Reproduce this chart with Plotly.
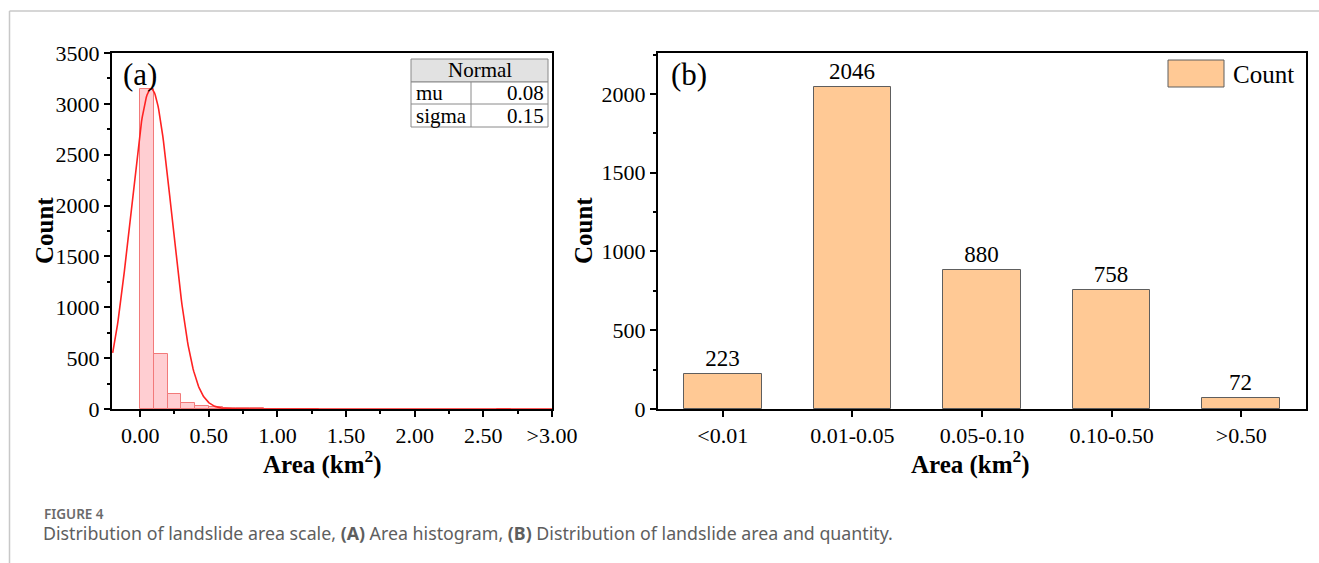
import numpy as np
import plotly.graph_objects as go

# ---------------- data ----------------
hist_centers = [0.05, 0.15, 0.25, 0.35, 0.45, 0.55, 0.65, 0.75, 0.85, 0.95, 1.05, 1.15, 1.25, 2.65]
hist_counts = [3150, 540, 145, 56, 33, 20, 10, 8, 5, 3, 3, 2, 2, 1]
bin_width = 0.1
fit_mu = 0.08
fit_sigma = 0.15
fit_peak = 3150

hist_xticks = [0, 0.5, 1.0, 1.5, 2.0, 2.5, 3.0]
hist_xticktext = ["0.00", "0.50", "1.00", "1.50", "2.00", "2.50", ">3.00"]

area_classes = ["<0.01", "0.01-0.05", "0.05-0.10", "0.10-0.50", ">0.50"]
area_counts = [223, 2046, 880, 758, 72]

# ---------------- layout helpers ----------------
W, H = 1319, 563
def X(px):
    return px / W
def Y(py):
    return 1 - py / H

SERIF = "Liberation Serif"

fig = go.Figure()

# histogram
fig.add_trace(go.Bar(
    x=hist_centers, y=hist_counts, width=bin_width,
    marker=dict(color="rgba(255,190,195,0.75)", line=dict(color="#F27A7A", width=1)),
    xaxis="x", yaxis="y", showlegend=False,
))

# normal fit curve from the displayed parameters
xc = np.linspace(-0.2, 3.0, 641)
yc = fit_peak * np.exp(-((xc - fit_mu) ** 2) / (2 * fit_sigma ** 2))
fig.add_trace(go.Scatter(
    x=xc, y=yc, mode="lines", line=dict(color="#FF2222", width=1.6),
    xaxis="x", yaxis="y", showlegend=False,
))

# bar chart
fig.add_trace(go.Bar(
    x=list(range(len(area_classes))), y=area_counts, width=0.6,
    marker=dict(color="#FFC995", line=dict(color="#5E5E5E", width=1)),
    text=[str(v) for v in area_counts], textposition="outside",
    textfont=dict(family=SERIF, size=23, color="black"),
    constraintext="none", cliponaxis=False,
    xaxis="x2", yaxis="y2", showlegend=False,
))

axis_common = dict(
    showline=True, linecolor="black", linewidth=2, mirror=True,
    ticks="outside", ticklen=6, tickwidth=2, tickcolor="black",
    showgrid=False, zeroline=False,
    tickfont=dict(family=SERIF, size=22, color="black"),
)

fig.update_layout(
    width=W, height=H, margin=dict(l=0, r=0, t=0, b=0, autoexpand=False),
    plot_bgcolor="white", paper_bgcolor="white",
    bargap=0,
    xaxis=dict(axis_common, domain=[X(112), X(552)], range=[-0.205, 3.0],
               tickvals=hist_xticks, ticktext=hist_xticktext, automargin=False,
               minor=dict(ticks="outside", ticklen=3, tickwidth=2, dtick=0.25, tick0=0, tickcolor="black"),
               anchor="y"),
    yaxis=dict(axis_common, domain=[Y(409), Y(53)], range=[0, 3500], dtick=500, automargin=False,
               minor=dict(ticks="outside", ticklen=3, tickwidth=2, dtick=250, tickcolor="black"),
               anchor="x"),
    xaxis2=dict(axis_common, domain=[X(658), X(1306)], range=[-0.5, 4.5],
                tickvals=list(range(len(area_classes))), ticktext=area_classes, automargin=False,
                anchor="y2"),
    yaxis2=dict(axis_common, domain=[Y(409), Y(53)], range=[0, 2260], dtick=500, automargin=False,
                minor=dict(ticks="outside", ticklen=3, tickwidth=2, dtick=250, tickcolor="black"),
                anchor="x2"),
)

shapes = []
annotations = []

# page frame lines (light grey)
shapes.append(dict(type="line", xref="paper", yref="paper", x0=X(9.5), x1=1, y0=Y(11), y1=Y(11),
                   line=dict(color="#C8C8C8", width=1.5)))
shapes.append(dict(type="line", xref="paper", yref="paper", x0=X(9.5), x1=X(9.5), y0=Y(11), y1=0,
                   line=dict(color="#C8C8C8", width=1.5)))

# Normal table
tl, tr, tm = 411, 548, 471
r0, r1, r2, r3 = 59, 82, 104, 127
shapes.append(dict(type="rect", xref="paper", yref="paper", x0=X(tl), x1=X(tr), y0=Y(r1), y1=Y(r0),
                   fillcolor="#E2E2E2", line=dict(color="#8A8A8A", width=1)))
shapes.append(dict(type="rect", xref="paper", yref="paper", x0=X(tl), x1=X(tr), y0=Y(r3), y1=Y(r1),
                   fillcolor="white", line=dict(color="#8A8A8A", width=1)))
shapes.append(dict(type="line", xref="paper", yref="paper", x0=X(tl), x1=X(tr), y0=Y(r2), y1=Y(r2),
                   line=dict(color="#8A8A8A", width=1)))
shapes.append(dict(type="line", xref="paper", yref="paper", x0=X(tm), x1=X(tm), y0=Y(r3), y1=Y(r1),
                   line=dict(color="#8A8A8A", width=1)))
tf = dict(family=SERIF, size=21, color="black")
annotations += [
    dict(text="Normal", x=X((tl + tr) / 2), y=Y((r0 + r1) / 2), xanchor="center", yanchor="middle", font=tf),
    dict(text="mu", x=X(tl + 3), y=Y((r1 + r2) / 2), xanchor="left", yanchor="middle", font=tf),
    dict(text="0.08", x=X(tr - 2), y=Y((r1 + r2) / 2), xanchor="right", yanchor="middle", font=tf),
    dict(text="sigma", x=X(tl + 3), y=Y((r2 + r3) / 2), xanchor="left", yanchor="middle", font=tf),
    dict(text="0.15", x=X(tr - 2), y=Y((r2 + r3) / 2), xanchor="right", yanchor="middle", font=tf),
]

# legend of panel (b)
shapes.append(dict(type="rect", xref="paper", yref="paper", x0=X(1168), x1=X(1224), y0=Y(87), y1=Y(60),
                   fillcolor="#FFC995", line=dict(color="#5E5E5E", width=1)))
annotations.append(dict(text="Count", x=X(1231), y=Y(74), xanchor="left", yanchor="middle",
                        font=dict(family=SERIF, size=25, color="black")))

# panel labels
annotations.append(dict(text="(a)", x=X(140), y=Y(74), xanchor="center", yanchor="middle",
                        font=dict(family=SERIF, size=31, color="black")))
annotations.append(dict(text="(b)", x=X(689), y=Y(74), xanchor="center", yanchor="middle",
                        font=dict(family=SERIF, size=31, color="black")))

# axis titles
bt = dict(family=SERIF, size=25, color="black")
annotations += [
    dict(text="<b>Count</b>", x=X(44), y=Y(231), textangle=-90, xanchor="center", yanchor="middle", font=bt),
    dict(text="<b>Count</b>", x=X(583), y=Y(231), textangle=-90, xanchor="center", yanchor="middle", font=bt),
    dict(text="<b>Area (km<sup>2</sup>)</b>", x=X(322), y=Y(462), xanchor="center", yanchor="middle", font=bt),
    dict(text="<b>Area (km<sup>2</sup>)</b>", x=X(970), y=Y(462), xanchor="center", yanchor="middle", font=bt),
]

# caption
annotations += [
    dict(text="FIGURE 4", x=X(42), y=Y(514), xanchor="left", yanchor="middle",
         font=dict(family="Noto Sans", size=13.5, color="#6A6A6A", weight=600)),
    dict(text="Distribution of landslide area scale, <b>(A)</b> Area histogram, <b>(B)</b> Distribution of landslide area and quantity.",
         x=X(41), y=Y(533), xanchor="left", yanchor="middle",
         font=dict(family="Noto Sans", size=17.8, color="#5E5E5E")),
]

for a in annotations:
    a.setdefault("xref", "paper")
    a.setdefault("yref", "paper")
    a.setdefault("showarrow", False)

fig.update_layout(shapes=shapes, annotations=annotations)

post = ("document.body.style.margin='0';document.body.style.padding='0';"
        "var gd=document.getElementById('{plot_id}');"
        "gd.style.position='absolute';gd.style.left='0px';gd.style.top='0px';")
fig.write_html("out.html", post_script=post, config={"displayModeBar": False})
